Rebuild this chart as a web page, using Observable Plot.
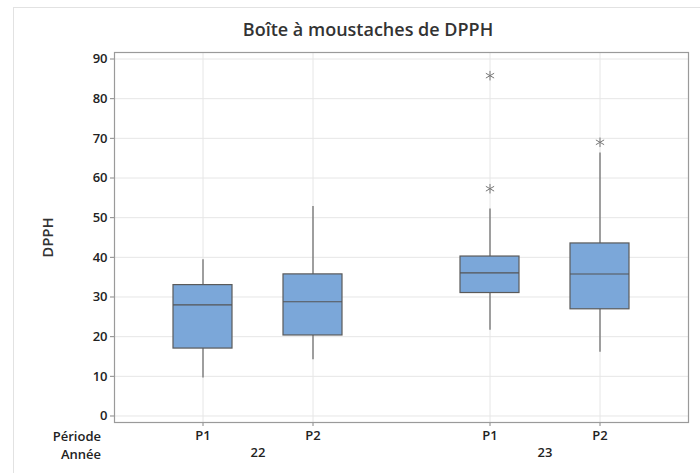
<!DOCTYPE html>
<html>
<head>
<meta charset="utf-8">
<script src="https://cdn.jsdelivr.net/npm/d3@7"></script>
<script src="https://cdn.jsdelivr.net/npm/@observablehq/plot@0.6"></script>
<style>
  html, body { margin: 0; padding: 0; background: #fff; overflow: hidden; }
  #wrap { position: relative; width: 700px; height: 473px; font-family: "Open Sans", "Noto Sans", sans-serif; }
  #border { position: absolute; left: 13px; top: 7px; width: 700px; height: 480px; border-left: 1px solid #e2e2e2; border-top: 1px solid #e2e2e2; }
  #title { position: absolute; left: 0; top: 17px; width: 736px; text-align: center; font-size: 18px; font-weight: 600; color: #333; line-height: 24px; }
  #chart { position: absolute; left: 0; top: 45px; }
  .lab { position: absolute; right: 599px; font-size: 13px; font-weight: 600; color: #222; line-height: 16px; }
</style>
</head>
<body>
<div id="wrap">
  <div id="border"></div>
  <div id="title">Boîte à moustaches de DPPH</div>
  <div id="chart"></div>
  <div class="lab" style="top:428px">Période</div>
  <div class="lab" style="top:446px">Année</div>
</div>
<script>
// Data
const annee = ["22", "22", "23", "23"];
const periode = ["P1", "P2", "P1", "P2"];
const whiskerLow = [9.6, 14.2, 21.6, 16.1];
const q1 = [17.0, 20.3, 31.0, 26.9];
const median = [28.0, 28.8, 36.1, 35.8];
const q3 = [33.0, 35.7, 40.2, 43.5];
const whiskerHigh = [39.4, 52.8, 52.2, 66.3];
const outliers = [[], [], [57.3, 85.8], [69.0]];
const yTicks = [0, 10, 20, 30, 40, 50, 60, 70, 80, 90];

const boxes = annee.map((a, i) => ({
  annee: a, periode: periode[i],
  lo: whiskerLow[i], q1: q1[i], med: median[i], q3: q3[i], hi: whiskerHigh[i]
}));
const outs = [];
outliers.forEach((arr, i) => arr.forEach(v => outs.push({annee: annee[i], periode: periode[i], v})));

const plot = Plot.plot({
  width: 700,
  height: 428,
  marginTop: 7,
  marginBottom: 51,
  marginLeft: 113,
  marginRight: 12,
  style: {fontFamily: "'Open Sans', 'Noto Sans', sans-serif", fontSize: "13px", color: "#222", background: "transparent"},
  fx: {domain: ["22", "23"], padding: 0},
  x: {domain: ["P1", "P2"], paddingInner: 0.468, paddingOuter: 0.536},
  y: {domain: [-1.64, 91.64]},
  marks: [
    Plot.gridY(yTicks, {stroke: "#e6e6e6", strokeOpacity: 1}),
    Plot.gridX({stroke: "#e6e6e6", strokeOpacity: 1}),
    Plot.axisY(yTicks, {tickSize: 4, tickPadding: 3, stroke: "#888", fontWeight: 600, fill: "#222", label: "DPPH", labelAnchor: "center", labelArrow: "none", labelOffset: 72}),
    Plot.axisX({tickSize: 4, tickPadding: 4, stroke: "#888", fontWeight: 600, fill: "#222", label: null}),
    Plot.axisFx({anchor: "bottom", tickSize: 0, tickPadding: 25, fontWeight: 600, fill: "#222", label: null}),
    Plot.ruleX(boxes, {x: "periode", fx: "annee", y1: "lo", y2: "q1", stroke: "#666", strokeWidth: 1.2}),
    Plot.ruleX(boxes, {x: "periode", fx: "annee", y1: "q3", y2: "hi", stroke: "#666", strokeWidth: 1.2}),
    Plot.barY(boxes, {x: "periode", fx: "annee", y1: "q1", y2: "q3", fill: "#7ba7d9", stroke: "#5a5a5a", strokeWidth: 1.2}),
    Plot.tickY(boxes, {x: "periode", fx: "annee", y: "med", stroke: "#555", strokeWidth: 1.2}),
    Plot.dot(outs, {x: "periode", fx: "annee", y: "v", symbol: "asterisk", r: 4.5, stroke: "#777", strokeWidth: 1}),
    Plot.frame({facet: "super", stroke: "#9a9a9a", strokeWidth: 1.2})
  ]
});
document.getElementById("chart").appendChild(plot);
// style the y-axis label
plot.querySelectorAll("[aria-label='y-axis label'] text").forEach(t => {
  t.setAttribute("font-size", "15px");
  t.setAttribute("font-weight", "600");
  t.setAttribute("fill", "#333");
});
</script>
</body>
</html>
